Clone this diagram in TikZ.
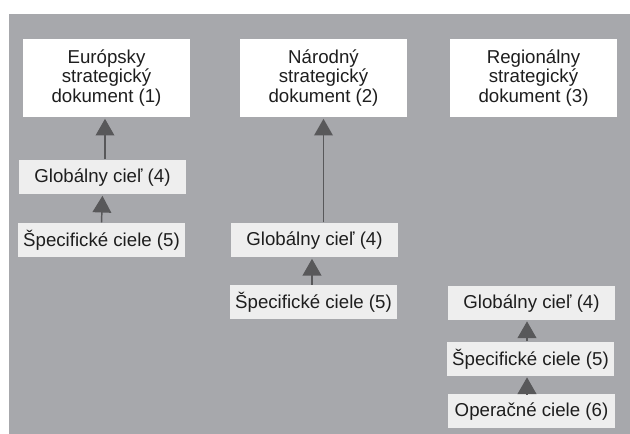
\documentclass[tikz,border=0pt]{standalone}
\usepackage{fontspec}
\setmainfont{Liberation Sans}
\usetikzlibrary{arrows.meta}

\definecolor{bgGray}{RGB}{167,168,172}
\definecolor{boxLight}{RGB}{238,238,238}
\definecolor{arrowGray}{RGB}{88,88,90}
\definecolor{textDark}{RGB}{30,30,30}

\tikzset{every picture/.style={line width=0.75pt}}
\tikzset{
  docbox/.style={fill=white, inner sep=0pt, minimum width=125.25pt, minimum height=58.5pt,
    align=center, text=textDark, font=\fontsize{14}{14.6}\selectfont},
  goalbox/.style={fill=boxLight, inner sep=0pt, minimum width=125.25pt, minimum height=25.5pt,
    text=textDark, font=\fontsize{14}{14.6}\selectfont, text depth=2pt},
  uparrow/.style={draw=arrowGray, line width=1.1pt,
    -{Triangle[width=14pt,length=12.5pt]}, shorten >=1pt}
}

\begin{document}
\begin{tikzpicture}[x=0.75pt,y=0.75pt,yscale=-1,xscale=1]
	\useasboundingbox (0,0) rectangle (630,434);
	
	%Background
	\fill [bgGray] (9,14) rectangle (630,434);
	
	% Strategic documents
	\node [docbox] (eu) at (106.5,78) {Európsky\\strategický\\dokument (1)};
	\node [docbox] (nd) at (323.5,78) {Národný\\strategický\\dokument (2)};
	\node [docbox] (rd) at (533.5,78) {Regionálny\\strategický\\dokument (3)};
	
	% European column
	\node [goalbox] (eg) at (102.5,177) {Globálny cieľ (4)};
	\node [goalbox] (es) at (101.5,240) {Špecifické ciele (5)};
	
	% National column
	\node [goalbox] (ng) at (314.5,240) {Globálny cieľ (4)};
	\node [goalbox] (ns) at (313.5,302) {Špecifické ciele (5)};
	
	% Regional column
	\node [goalbox] (rg) at (531.5,302.5) {Globálny cieľ (4)};
	\node [goalbox] (rs) at (530.5,358.5) {Špecifické ciele (5)};
	\node [goalbox] (ro) at (531.5,411) {Operačné ciele (6)};
	
	% Arrows
	\draw [uparrow] (eg.north -| eu.south) ++(-1.5,0) coordinate (a1) -- (a1 |- eu.south);
	\draw [uparrow] (es.north) -- (eg.south);
	\draw [uparrow] (ng.north -| nd.south) -- (nd.south);
	\draw [uparrow] (ns.north -| 312,0) coordinate (a2) -- (a2 |- ng.south);
	\draw [uparrow] (rs.north -| 527,0) coordinate (a3) -- (a3 |- rg.south);
	\draw [uparrow] (ro.north -| 527,0) coordinate (a4) -- (a4 |- rs.south);
	
\end{tikzpicture}
\end{document}
